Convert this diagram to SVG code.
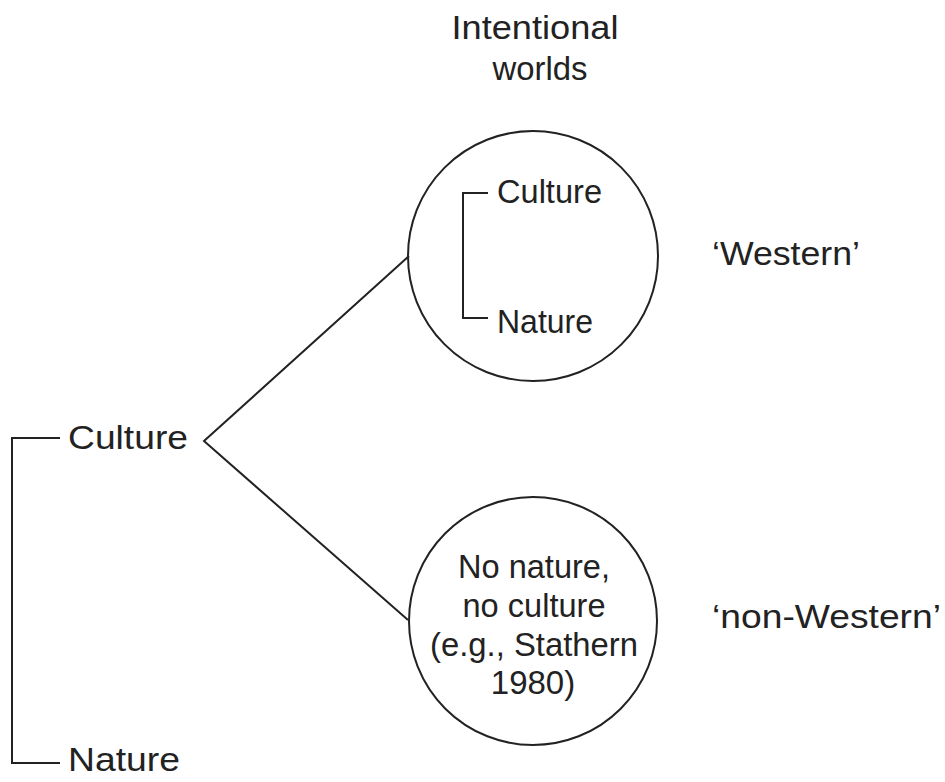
<svg xmlns="http://www.w3.org/2000/svg" width="945" height="782" viewBox="0 0 945 782">
  <style>
    .lbl { font-family: "Liberation Sans", Arial, Helvetica, sans-serif; font-size: 33px; fill: #222; }
    .mid { text-anchor: middle; }
    .ln { fill: none; stroke: #222; stroke-width: 2; }
  </style>
  <rect width="945" height="782" fill="#fff"/>

  <!-- Heading -->
  <g id="heading">
    <text class="lbl mid" x="535" y="39" textLength="167" lengthAdjust="spacingAndGlyphs">Intentional</text>
    <text class="lbl mid" x="540" y="80" textLength="95" lengthAdjust="spacingAndGlyphs">worlds</text>
  </g>

  <!-- Root pair: Culture / Nature -->
  <g id="root-pair">
    <path class="ln" d="M60 438 H12 V763 H60"/>
    <text class="lbl" x="68" y="449" textLength="120" lengthAdjust="spacingAndGlyphs">Culture</text>
    <text class="lbl" x="68" y="771" textLength="112" lengthAdjust="spacingAndGlyphs">Nature</text>
  </g>

  <!-- Branches from Culture -->
  <g id="connectors">
    <polyline class="ln" points="409,256 204,441 408,620"/>
  </g>

  <!-- Western world -->
  <g id="western">
    <circle class="ln" cx="533" cy="256" r="125"/>
    <path class="ln" d="M488 193 H463 V318 H488"/>
    <text class="lbl" x="497" y="203" textLength="105" lengthAdjust="spacingAndGlyphs">Culture</text>
    <text class="lbl" x="497" y="333" textLength="96" lengthAdjust="spacingAndGlyphs">Nature</text>
    <text class="lbl" x="712" y="265" textLength="148" lengthAdjust="spacingAndGlyphs">‘Western’</text>
  </g>

  <!-- Non-Western world -->
  <g id="non-western">
    <circle class="ln" cx="533" cy="621" r="124"/>
    <text class="lbl mid" x="534" y="578" textLength="152" lengthAdjust="spacingAndGlyphs">No nature,</text>
    <text class="lbl mid" x="534" y="617" textLength="143" lengthAdjust="spacingAndGlyphs">no culture</text>
    <text class="lbl mid" x="534" y="656" textLength="208" lengthAdjust="spacingAndGlyphs">(e.g., Stathern</text>
    <text class="lbl mid" x="533" y="694">1980)</text>
    <text class="lbl" x="712" y="628" textLength="229" lengthAdjust="spacingAndGlyphs">‘non-Western’</text>
  </g>
</svg>
